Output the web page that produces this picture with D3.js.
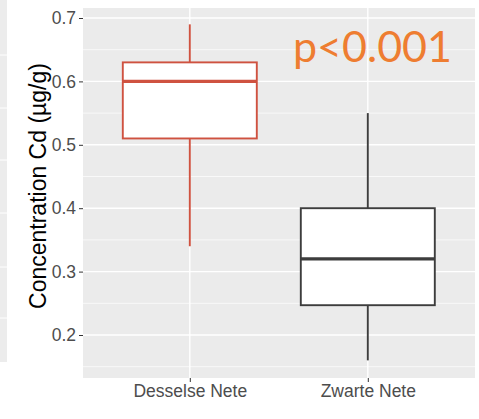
<!DOCTYPE html>
<html>
<head>
<meta charset="utf-8">
<script src="https://cdn.jsdelivr.net/npm/d3@7"></script>
<style>
  html, body { margin: 0; padding: 0; background: #ffffff; }
  svg { display: block; }
</style>
</head>
<body>
<svg id="chart" width="479" height="419"></svg>
<script>
// Cd concentration per river (five-number summaries)
const rivers = ["Desselse Nete", "Zwarte Nete"];
const whiskerLow = [0.34, 0.16];
const q1 = [0.51, 0.247];
const median = [0.60, 0.32];
const q3 = [0.63, 0.40];
const whiskerHigh = [0.69, 0.55];
const boxColors = ["#cf5240", "#3d3d3d"];

const yTicks = [0.2, 0.3, 0.4, 0.5, 0.6, 0.7];
const yMinor = [0.15, 0.25, 0.35, 0.45, 0.55, 0.65];
const pLabel = "p<0.001";
const yTitle = "Concentration Cd (µg/g)";

const svg = d3.select("#chart");

// faint strip of a neighbouring panel along the left edge
svg.append("rect").attr("x", 0).attr("y", 0).attr("width", 7).attr("height", 362).attr("fill", "#ececec");
[55, 108, 160, 213, 267, 318].forEach(yy => {
  svg.append("line").attr("x1", 0).attr("x2", 7).attr("y1", yy).attr("y2", yy)
    .attr("stroke", "#ffffff").attr("stroke-width", 1);
});

const panel = { left: 83, right: 475, top: 8, bottom: 378 };

const y = d3.scaleLinear().domain([0.2, 0.7]).range([335, 18]);
const x = d3.scalePoint().domain(rivers).range([189.8, 367.8]);
const boxW = 134;

const g = svg.append("g");

g.append("rect")
  .attr("x", panel.left).attr("y", panel.top)
  .attr("width", panel.right - panel.left).attr("height", panel.bottom - panel.top)
  .attr("fill", "#ebebeb");

// minor grid
g.selectAll("line.minor").data(yMinor).join("line")
  .attr("x1", panel.left).attr("x2", panel.right)
  .attr("y1", d => y(d)).attr("y2", d => y(d))
  .attr("stroke", "#ffffff").attr("stroke-width", 0.7);

// major grid
g.selectAll("line.major").data(yTicks).join("line")
  .attr("x1", panel.left).attr("x2", panel.right)
  .attr("y1", d => y(d)).attr("y2", d => y(d))
  .attr("stroke", "#ffffff").attr("stroke-width", 1.4);

g.selectAll("line.vgrid").data(rivers).join("line")
  .attr("x1", d => x(d)).attr("x2", d => x(d))
  .attr("y1", panel.top).attr("y2", panel.bottom)
  .attr("stroke", "#ffffff").attr("stroke-width", 1.4);

// boxes
rivers.forEach((r, i) => {
  const cx = x(r);
  const col = boxColors[i];
  g.append("line").attr("x1", cx).attr("x2", cx)
    .attr("y1", y(whiskerHigh[i])).attr("y2", y(q3[i]))
    .attr("stroke", col).attr("stroke-width", 1.9);
  g.append("line").attr("x1", cx).attr("x2", cx)
    .attr("y1", y(q1[i])).attr("y2", y(whiskerLow[i]))
    .attr("stroke", col).attr("stroke-width", 1.9);
  g.append("rect")
    .attr("x", cx - boxW / 2).attr("y", y(q3[i]))
    .attr("width", boxW).attr("height", y(q1[i]) - y(q3[i]))
    .attr("fill", "#ffffff").attr("stroke", col).attr("stroke-width", 1.9);
  g.append("line").attr("x1", cx - boxW / 2).attr("x2", cx + boxW / 2)
    .attr("y1", y(median[i])).attr("y2", y(median[i]))
    .attr("stroke", col).attr("stroke-width", 3.2);
});

// y axis
const yAxis = d3.axisLeft(y).tickValues(yTicks).tickFormat(d3.format(".1f")).tickSize(4).tickPadding(3);
const ya = svg.append("g").attr("transform", `translate(${panel.left},0)`).call(yAxis);
ya.select(".domain").remove();
ya.selectAll(".tick line").attr("stroke", "#333333").attr("stroke-width", 1);
ya.selectAll(".tick text").attr("fill", "#4d4d4d")
  .style("font-family", "Liberation Sans, Arial, sans-serif").style("font-size", "17.5px");

// x axis
const xAxis = d3.axisBottom(x).tickSize(4).tickPadding(3);
const xa = svg.append("g").attr("transform", `translate(0,${panel.bottom})`).call(xAxis);
xa.select(".domain").remove();
xa.selectAll(".tick line").attr("stroke", "#333333").attr("stroke-width", 1);
xa.selectAll(".tick text").attr("fill", "#4d4d4d")
  .style("font-family", "Liberation Sans, Arial, sans-serif").style("font-size", "17.5px");

// axis title
svg.append("text")
  .attr("transform", `translate(46,186) rotate(-90)`)
  .attr("text-anchor", "middle")
  .attr("fill", "#000000")
  .style("font-family", "Liberation Sans, Arial, sans-serif").style("font-size", "23px")
  .text(yTitle);

// significance label
svg.append("text")
  .attr("x", 293).attr("y", 62)
  .attr("fill", "#ee7d31")
  .style("font-family", "Lato, sans-serif").style("font-size", "43px")
  .text(pLabel);
</script>
</body>
</html>
